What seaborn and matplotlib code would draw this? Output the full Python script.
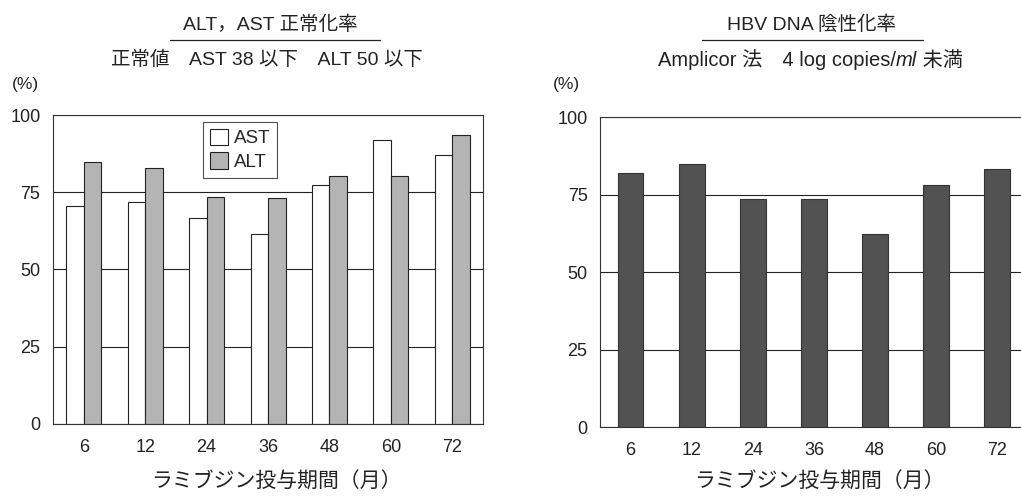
import pandas as pd
import seaborn as sns
import matplotlib.pyplot as plt
from matplotlib.lines import Line2D

# Values
months = ['6', '12', '24', '36', '48', '60', '72']
ast_rate = [70.5, 72.0, 66.8, 61.6, 77.3, 91.9, 87.1]
alt_rate = [84.7, 82.9, 73.4, 73.3, 80.3, 80.4, 93.6]
hbv_rate = [82.0, 85.0, 73.5, 73.5, 62.2, 78.1, 83.2]

sns.set_style('white')
fonts = ['Liberation Sans', 'Noto Sans CJK JP', 'DejaVu Sans']
plt.rcParams['font.family'] = fonts

left_df = pd.DataFrame({
    'month': months * 2,
    'rate': ast_rate + alt_rate,
    'test': ['AST'] * len(months) + ['ALT'] * len(months),
})
right_df = pd.DataFrame({'month': months, 'rate': hbv_rate})

W, H = 1021, 497
fig = plt.figure(figsize=(W / 100, H / 100), dpi=100)
ax1 = fig.add_axes([0.0519, 0.1469, 0.4212, 0.6217])
ax2 = fig.add_axes([0.5877, 0.1408, 0.4190, 0.6237])

sns.barplot(data=left_df, x='month', y='rate', hue='test', order=months,
            hue_order=['AST', 'ALT'], palette=['white', '#b4b4b4'],
            edgecolor='#222222', linewidth=0.8, width=0.57, ax=ax1)
sns.barplot(data=right_df, x='month', y='rate', order=months, color='#525252',
            edgecolor='#333333', linewidth=0.8, width=0.42, ax=ax2,
            saturation=1)

for ax in (ax1, ax2):
    ax.set_ylim(0, 100)
    ax.set_xlim(-0.5, len(months) - 0.5)
    ax.set_yticks([0, 25, 50, 75, 100])
    ax.set_axisbelow(True)
    ax.yaxis.grid(True, color='#222222', linewidth=0.8)
    ax.set_xlabel('')
    ax.set_ylabel('')
    ax.tick_params(axis='both', length=0, labelsize=13, colors='#222222')
    ax.tick_params(axis='y', pad=9)
    ax.tick_params(axis='x', pad=11)
    ax.set_xticks([i + 0.5 for i in range(len(months) - 1)], minor=True)
    ax.tick_params(axis='x', which='minor', direction='in', length=4,
                   width=0.8, color='#222222')
    for s in ax.spines.values():
        s.set_color('#333333')
        s.set_linewidth(0.8)

leg = ax1.legend(loc='upper center', bbox_to_anchor=(0.435, 0.977),
                 fontsize=13.5, frameon=True, fancybox=False, handlelength=1.0,
                 handleheight=1.0, handletextpad=0.3, borderpad=0.35,
                 labelspacing=0.25, borderaxespad=0)
leg.get_frame().set_edgecolor('#222222')
leg.get_frame().set_linewidth(0.8)

txt = dict(ha='center', va='center', color='#222222')
fig.text(270 / W, 1 - 25 / H, 'ALT，AST 正常化率', fontsize=14, **txt)
fig.text(267 / W, 1 - 60 / H, '正常値　AST 38 以下　ALT 50 以下', fontsize=14, **txt)
fig.text(811 / W, 1 - 25 / H, 'HBV DNA 陰性化率', fontsize=14, **txt)
fig.text(25 / W, 1 - 85 / H, '(%)', fontsize=12.5, **txt)
fig.text(566 / W, 1 - 85 / H, '(%)', fontsize=12.5, **txt)
fig.text(276 / W, 1 - 482 / H, 'ラミブジン投与期間（月）', fontsize=15, **txt)
fig.text(819 / W, 1 - 482 / H, 'ラミブジン投与期間（月）', fontsize=15, **txt)

# right subtitle with italic "ml", built from pieces placed side by side
pieces = [('Amplicor 法　4 log copies/', 'normal'), ('ml', 'italic'), (' 未満', 'normal')]
renderer = fig.canvas.get_renderer()
x = 658 / W
for s, style in pieces:
    t = fig.text(x, 1 - 66 / H, s, fontsize=14.5, style=style, ha='left',
                 va='baseline', color='#222222', family=fonts)
    x = fig.transFigure.inverted().transform(
        (t.get_window_extent(renderer).x1, 0))[0]

fig.add_artist(Line2D([170 / W, 380 / W], [1 - 40 / H] * 2,
                      color='#222222', linewidth=0.9))
fig.add_artist(Line2D([702 / W, 923 / W], [1 - 40 / H] * 2,
                      color='#222222', linewidth=0.9))

fig.savefig('out.png', dpi=100, facecolor='white')
